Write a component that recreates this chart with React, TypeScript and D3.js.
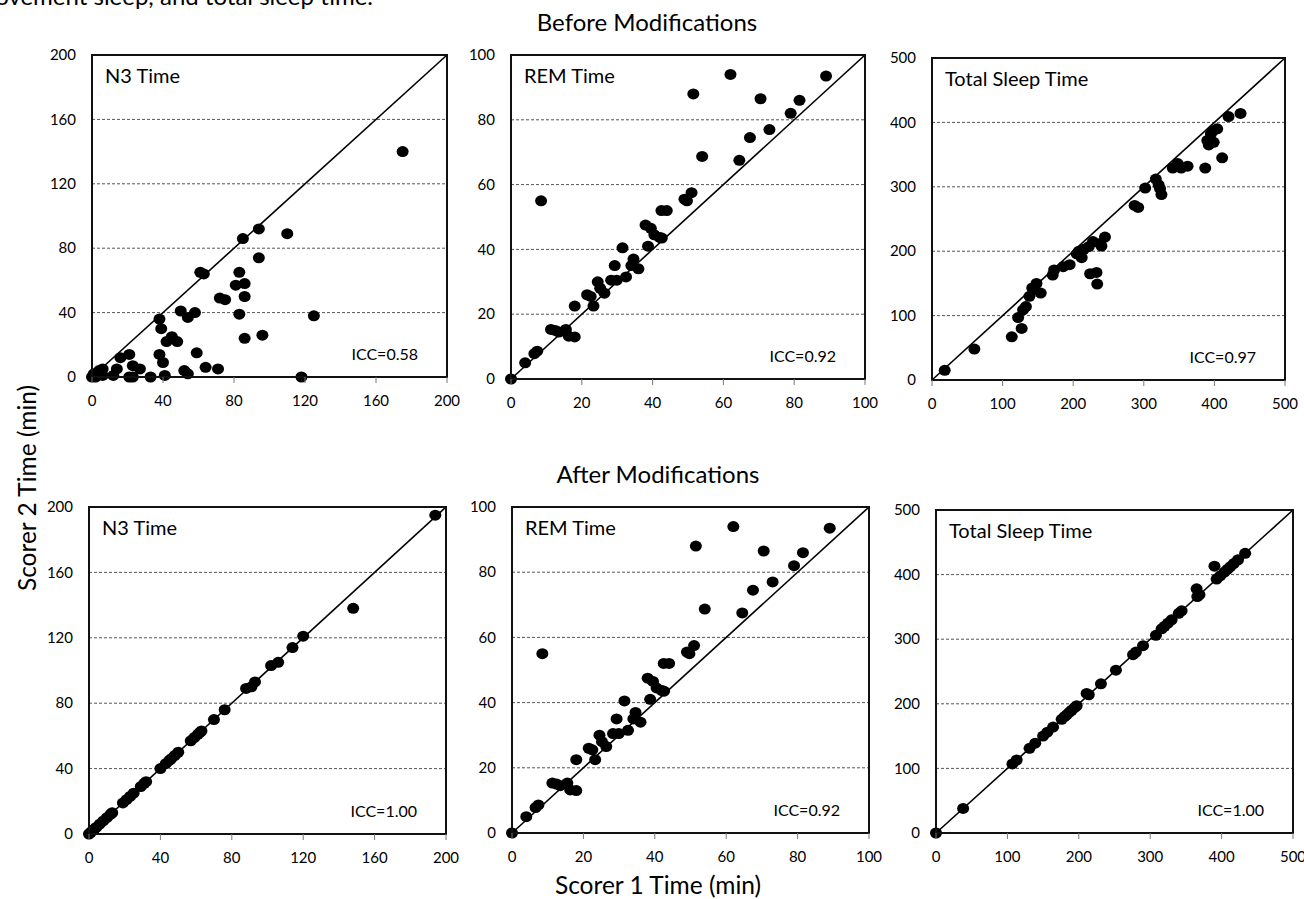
import React from "react";
import * as d3 from "d3";

// ---------- data (Scorer 1 time, Scorer 2 time) in minutes ----------
const n3Before: [number, number][] = [
  [175, 140], [94, 92], [110, 89], [85, 86], [94, 74], [61, 65], [63, 64], [83, 65], [86, 58], [81, 57],
  [72, 49], [75, 48], [86, 50], [125, 38], [83, 39], [50, 41], [54, 37], [58, 40], [38, 36], [39, 30],
  [42, 22], [45, 25], [48, 22], [86, 24], [96, 26], [38, 14], [40, 9], [59, 15], [64, 6], [71, 5],
  [21, 14], [16, 12], [14, 5], [12, 1], [23, 7], [27, 5], [21, 0], [23, 0], [33, 0], [41, 1],
  [52, 4], [54, 2], [118, 0], [0, 0], [1, 2], [4, 4], [6, 5], [2, 0], [6, 1], [3, 1],
];

const remBefore: [number, number][] = [
  [0, 0], [4, 5], [6.6, 7.8], [7.4, 8.6], [8.5, 55], [11.3, 15.3], [12.5, 15], [13.5, 14.5], [15.5, 15.3],
  [16.3, 13.2], [18, 13], [18, 22.5], [21.5, 26], [22.5, 25.5], [23.3, 22.5], [24.5, 30], [25.2, 28],
  [26.4, 26.5], [28.3, 30.5], [29.9, 30.5], [29.3, 35], [32.5, 31.5], [31.5, 40.5], [34.6, 37], [34, 35],
  [36, 34], [38, 47.5], [39.5, 46.5], [38.7, 41], [40.5, 44.5], [42, 43.7], [42.6, 43.5], [42.5, 52],
  [44, 52], [49, 55.5], [49.7, 55], [51, 57.5], [51.5, 88], [54, 68.7], [62, 94], [64.5, 67.5],
  [67.5, 74.5], [70.5, 86.5], [73, 77], [79, 82], [81.5, 86], [89, 93.5],
];

const tstBefore: [number, number][] = [
  [18, 15], [60, 48], [113, 67], [127, 80], [122, 97], [129, 109], [133, 114], [138, 130], [145, 140],
  [148, 150], [154, 135], [142, 143], [171, 163], [173, 171], [186, 176], [195, 179], [205, 196],
  [212, 190], [222, 207], [208, 200], [215, 203], [224, 165], [233, 167], [234, 149], [228, 215],
  [238, 212], [245, 222], [240, 208], [287, 271], [292, 268], [302, 298], [317, 312], [321, 303],
  [323, 297], [325, 288], [341, 329], [348, 336], [353, 329], [362, 332], [387, 329], [390, 372],
  [392, 365], [395, 382], [399, 369], [404, 390], [398, 387], [411, 345], [420, 409], [437, 414],
];

const n3After: [number, number][] = [
  [148, 138], [194, 195], [120, 121], [114, 114], [102, 103], [106, 105], [88, 89], [91, 90], [93, 93],
  [76, 76], [70, 70], [57, 57], [59, 59], [61, 61], [62, 62], [63, 63], [40, 40], [43, 43], [45, 45],
  [46, 46], [48, 48], [50, 50], [29, 29], [31, 31], [32, 32], [19, 19], [21, 21], [23, 23], [25, 25],
  [8, 8], [10, 10], [12, 12], [13, 13], [0, 0], [1, 1], [2, 2], [3, 3], [4, 4], [6, 6],
];

const remAfter: [number, number][] = [
  [0, 0], [4, 5], [6.6, 7.8], [7.4, 8.6], [8.5, 55], [11.3, 15.3], [12.5, 15], [13.5, 14.5], [15.5, 15.3],
  [16.3, 13.2], [18, 13], [18, 22.5], [21.5, 26], [22.5, 25.5], [23.3, 22.5], [24.5, 30], [25.2, 28],
  [26.4, 26.5], [28.3, 30.5], [29.9, 30.5], [29.3, 35], [32.5, 31.5], [31.5, 40.5], [34.6, 37], [34, 35],
  [36, 34], [38, 47.5], [39.5, 46.5], [38.7, 41], [40.5, 44.5], [42, 43.7], [42.6, 43.5], [42.5, 52],
  [44, 52], [49, 55.5], [49.7, 55], [51, 57.5], [51.5, 88], [54, 68.7], [62, 94], [64.5, 67.5],
  [67.5, 74.5], [70.5, 86.5], [73, 77], [79, 82], [81.5, 86], [89, 93.5],
];

const tstAfter: [number, number][] = [
  [0, 0], [38, 38], [107, 107], [113, 113], [131, 131], [139, 139], [150, 150], [156, 156], [164, 164],
  [176, 176], [180, 180], [183, 183], [187, 187], [190, 190], [194, 194], [197, 197], [211, 216],
  [214, 214], [231, 231], [252, 252], [276, 276], [280, 280], [290, 290], [308, 306], [316, 316],
  [320, 320], [325, 325], [330, 330], [340, 340], [344, 344], [365, 378], [366, 366], [369, 369],
  [390, 413], [393, 393], [398, 398], [404, 404], [408, 408], [412, 412], [417, 417], [423, 423],
  [433, 433],
];

const n3Ticks = [0, 40, 80, 120, 160, 200];
const remTicks = [0, 20, 40, 60, 80, 100];
const tstTicks = [0, 100, 200, 300, 400, 500];

const panelTitles = ["N3 Time", "REM Time", "Total Sleep Time", "N3 Time", "REM Time", "Total Sleep Time"];
const iccLabels = ["ICC=0.58", "ICC=0.92", "ICC=0.97", "ICC=1.00", "ICC=0.92", "ICC=1.00"];

// ---------- layout ----------
const FONT = "Lato, 'Open Sans', sans-serif";
const panels = [
  { data: n3Before, ticks: n3Ticks, x0: 92, x1: 447, y0: 55, y1: 377 },
  { data: remBefore, ticks: remTicks, x0: 511, x1: 865, y0: 55, y1: 379 },
  { data: tstBefore, ticks: tstTicks, x0: 932, x1: 1285, y0: 58, y1: 380 },
  { data: n3After, ticks: n3Ticks, x0: 89, x1: 446, y0: 507, y1: 834 },
  { data: remAfter, ticks: remTicks, x0: 512, x1: 869, y0: 507, y1: 833 },
  { data: tstAfter, ticks: tstTicks, x0: 936, x1: 1293, y0: 510, y1: 833 },
];

function Panel({ p, title, icc }: any) {
  const max = p.ticks[p.ticks.length - 1];
  const x = d3.scaleLinear().domain([0, max]).range([p.x0, p.x1]);
  const y = d3.scaleLinear().domain([0, max]).range([p.y1, p.y0]);
  const diag = d3.line<number>().x((v) => x(v)).y((v) => y(v))([0, max]) || "";
  return (
    <g>
      {p.ticks.slice(1, -1).map((t: number) => (
        <line key={"g" + t} x1={p.x0} x2={p.x1} y1={y(t)} y2={y(t)} stroke="#555" strokeWidth={1} strokeDasharray="3,2" />
      ))}
      <path d={diag} stroke="#000" strokeWidth={1.6} fill="none" />
      {p.data.map((d: [number, number], i: number) => (
        <ellipse key={i} cx={x(d[0])} cy={y(d[1])} rx={6} ry={5.5} fill="#000" />
      ))}
      <rect x={p.x0} y={p.y0} width={p.x1 - p.x0} height={p.y1 - p.y0} fill="none" stroke="#111" strokeWidth={2} />
      {p.ticks.map((t: number) => (
        <line key={"t" + t} x1={x(t)} x2={x(t)} y1={p.y1} y2={p.y1 + 6} stroke="#777" strokeWidth={1} />
      ))}
      {p.ticks.map((t: number) => (
        <text key={"yl" + t} x={p.x0 - 16} y={y(t)} dy="0.35em" textAnchor="end" fontSize={15} fontFamily={FONT} fill="#000">
          {t}
        </text>
      ))}
      {p.ticks.map((t: number) => (
        <text key={"xl" + t} x={x(t)} y={p.y1 + 24} dy="0.35em" textAnchor="middle" fontSize={15} fontFamily={FONT} fill="#000">
          {t}
        </text>
      ))}
      <text x={p.x0 + 13} y={p.y0 + 28} fontSize={20} fontFamily={FONT} fill="#000">{title}</text>
      <text x={p.x1 - 29} y={p.y1 - 17} textAnchor="end" fontSize={16} fontFamily={FONT} fill="#000">{icc}</text>
    </g>
  );
}

export default function App() {
  return (
    <svg width={1304} height={899} style={{ position: "absolute", left: 0, top: 0, background: "#fff" }}>
      <rect x={0} y={0} width={1304} height={899} fill="#fff" />
      <text x={373} y={5} textAnchor="end" fontSize={24} fontFamily={FONT} fill="#000">movement sleep, and total sleep time.</text>
      <text x={647} y={31} textAnchor="middle" fontSize={24} fontFamily={FONT} fill="#000">Before Modifications</text>
      <text x={658} y={483} textAnchor="middle" fontSize={24} fontFamily={FONT} fill="#000">After Modifications</text>
      <text x={658} y={894} textAnchor="middle" fontSize={24.5} fontFamily={FONT} fill="#000">Scorer 1 Time (min)</text>
      <text transform="translate(36,488) rotate(-90)" textAnchor="middle" fontSize={24.5} fontFamily={FONT} fill="#000">Scorer 2 Time (min)</text>
      {panels.map((p, i) => (
        <Panel key={i} p={p} title={panelTitles[i]} icc={iccLabels[i]} />
      ))}
    </svg>
  );
}
